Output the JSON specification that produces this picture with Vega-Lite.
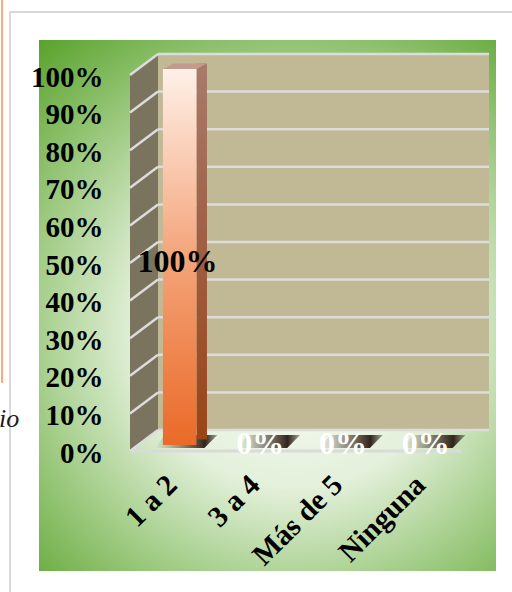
{
  "$schema": "https://vega.github.io/schema/vega-lite/v6.json",
  "width": 331,
  "height": 376,
  "autosize": {"type": "none"},
  "padding": {"left": 130, "top": 75, "right": 51, "bottom": 141},
  "background": "white",
  "config": {"view": {"stroke": null}, "font": "Liberation Serif"},
  "datasets": {
    "respuestas": [
      {"categoria": "1 a 2", "porcentaje": 1},
      {"categoria": "3 a 4", "porcentaje": 0},
      {"categoria": "Más de 5", "porcentaje": 0},
      {"categoria": "Ninguna", "porcentaje": 0}
    ],
    "marcas": [
      {"valor": 0}, {"valor": 0.1}, {"valor": 0.2}, {"valor": 0.3}, {"valor": 0.4}, {"valor": 0.5},
      {"valor": 0.6}, {"valor": 0.7}, {"valor": 0.8}, {"valor": 0.9}, {"valor": 1}
    ]
  },
  "resolve": {"scale": {"x": "independent", "y": "independent"}},
  "layer": [
    {
      "data": {"values": [{}]},
      "mark": {"type": "rect", "filled": false, "stroke": "#d9d9d9", "strokeWidth": 2},
      "encoding": {
        "x": {"datum": -1.45, "type": "quantitative", "scale": {"domain": [0, 4], "nice": false}, "axis": null},
        "x2": {"datum": 5},
        "y": {"datum": 1.1676, "type": "quantitative", "scale": {"domain": [0, 1], "nice": false}, "axis": null},
        "y2": {"datum": -0.45}
      }
    },
    {
      "data": {"values": [{}]},
      "mark": {"type": "rule", "color": "#f4ad7e", "strokeWidth": 2},
      "encoding": {
        "x": {"datum": -1.5468, "type": "quantitative", "scale": {"domain": [0, 4], "nice": false}, "axis": null},
        "y": {"datum": 1.2, "type": "quantitative", "scale": {"domain": [0, 1], "nice": false}, "axis": null},
        "y2": {"datum": 0.1809}
      }
    },
    {
      "data": {"values": [{}]},
      "mark": {"type": "text", "font": "Liberation Serif", "fontStyle": "italic", "fontSize": 26, "align": "left", "baseline": "alphabetic", "color": "#1a1a1a"},
      "encoding": {
        "x": {"datum": -1.5831, "type": "quantitative", "scale": {"domain": [0, 4], "nice": false}, "axis": null},
        "y": {"datum": 0.0638, "type": "quantitative", "scale": {"domain": [0, 1], "nice": false}, "axis": null},
        "text": {"value": "io"}
      }
    },
    {
      "data": {"values": [{}]},
      "mark": {
        "type": "rect",
        "fill": {
          "gradient": "radial", "x1": 0.55, "y1": 0.55, "r1": 0, "x2": 0.55, "y2": 0.55, "r2": 0.74,
          "stops": [
            {"offset": 0, "color": "#ffffff"},
            {"offset": 0.4, "color": "#e3f0da"},
            {"offset": 0.68, "color": "#9fcb83"},
            {"offset": 1, "color": "#56a027"}
          ]
        }
      },
      "encoding": {
        "x": {"datum": -1.0997, "type": "quantitative", "scale": {"domain": [0, 4], "nice": false}, "axis": null},
        "x2": {"datum": 4.423},
        "y": {"datum": 1.0931, "type": "quantitative", "scale": {"domain": [0, 1], "nice": false}, "axis": null},
        "y2": {"datum": -0.3191}
      }
    },
    {
      "data": {"values": [{}]},
      "mark": {"type": "rect", "fill": "#c1b995", "xOffset": 28, "x2Offset": 28, "yOffset": -21, "y2Offset": -21},
      "encoding": {
        "x": {"datum": 0, "type": "quantitative", "scale": {"domain": [0, 4], "nice": false}, "axis": null},
        "x2": {"datum": 4},
        "y": {"datum": 1, "type": "quantitative", "scale": {"domain": [0, 1], "nice": false}, "axis": null},
        "y2": {"datum": 0}
      }
    },
    {
      "data": {"name": "marcas"},
      "mark": {"type": "rule", "color": "#dcdcdc", "strokeWidth": 2.5, "xOffset": 28, "x2Offset": 28, "yOffset": -21},
      "encoding": {
        "x": {"datum": 0, "type": "quantitative", "scale": {"domain": [0, 4], "nice": false}, "axis": null},
        "x2": {"datum": 4},
        "y": {"field": "valor", "type": "quantitative", "scale": {"domain": [0, 1], "nice": false}, "axis": null}
      }
    },
    {
      "data": {"values": [{}]},
      "mark": {"type": "point", "shape": "M0,0 L28,-21 L28,-397 L0,-376 Z", "size": 4, "filled": true, "fill": "#7a745f", "opacity": 1, "strokeWidth": 0},
      "encoding": {
        "x": {"datum": 0, "type": "quantitative", "scale": {"domain": [0, 4], "nice": false}, "axis": null},
        "y": {"datum": 0, "type": "quantitative", "scale": {"domain": [0, 1], "nice": false}, "axis": null}
      }
    },
    {
      "data": {"name": "marcas"},
      "mark": {"type": "rule", "color": "#dcdcdc", "strokeWidth": 2.5, "x2Offset": 28, "y2Offset": -21},
      "encoding": {
        "x": {"datum": 0, "type": "quantitative", "scale": {"domain": [0, 4], "nice": false}, "axis": null},
        "x2": {"datum": 0},
        "y": {"field": "valor", "type": "quantitative", "scale": {"domain": [0, 1], "nice": false}, "axis": null},
        "y2": {"field": "valor"}
      }
    },
    {
      "data": {"values": [{}]},
      "mark": {"type": "rule", "color": "#dadada", "strokeWidth": 3},
      "encoding": {
        "x": {"datum": 0, "type": "quantitative", "scale": {"domain": [0, 4], "nice": false}, "axis": null},
        "x2": {"datum": 4},
        "y": {"datum": 0, "type": "quantitative", "scale": {"domain": [0, 1], "nice": false}, "axis": null}
      }
    },
    {
      "data": {"name": "respuestas"},
      "mark": {
        "type": "point", "shape": "M-16,-3 L33,-3 L46,-16 L-7,-16 Z", "size": 4, "filled": true, "opacity": 1, "strokeWidth": 0,
        "fill": {
          "gradient": "linear", "x1": 0, "y1": 0, "x2": 1, "y2": 0,
          "stops": [
            {"offset": 0, "color": "rgba(70,50,40,0)"},
            {"offset": 0.45, "color": "rgba(60,40,30,0.55)"},
            {"offset": 0.8, "color": "rgba(40,25,18,0.95)"},
            {"offset": 1, "color": "rgba(40,25,18,0.35)"}
          ]
        }
      },
      "encoding": {
        "x": {"field": "categoria", "type": "nominal", "scale": {"type": "band", "domain": ["1 a 2", "3 a 4", "Más de 5", "Ninguna"], "paddingInner": 0, "paddingOuter": 0}, "axis": null},
        "y": {"datum": 0, "type": "quantitative", "scale": {"domain": [0, 1], "nice": false}, "axis": null}
      }
    },
    {
      "data": {"name": "respuestas"},
      "transform": [{"filter": "datum.porcentaje > 0"}],
      "mark": {
        "type": "bar", "width": {"band": 0.127}, "xOffset": 30.35, "yOffset": -11.5, "y2Offset": -6,
        "fill": {
          "gradient": "linear", "x1": 0, "y1": 0, "x2": 0, "y2": 1,
          "stops": [
            {"offset": 0, "color": "#a97a6b"},
            {"offset": 0.5, "color": "#9e5e42"},
            {"offset": 1, "color": "#9a4416"}
          ]
        }
      },
      "encoding": {
        "x": {"field": "categoria", "type": "nominal", "scale": {"type": "band", "domain": ["1 a 2", "3 a 4", "Más de 5", "Ninguna"], "paddingInner": 0, "paddingOuter": 0}, "axis": null},
        "y": {"field": "porcentaje", "type": "quantitative", "scale": {"domain": [0, 1], "nice": false}, "axis": null}
      }
    },
    {
      "data": {"name": "respuestas"},
      "mark": {
        "type": "bar", "width": {"band": 0.405}, "xOffset": 8.3, "yOffset": -6, "y2Offset": -6,
        "fill": {
          "gradient": "linear", "x1": 0, "y1": 0, "x2": 0, "y2": 1,
          "stops": [
            {"offset": 0, "color": "#fff0e8"},
            {"offset": 0.5, "color": "#f4a47a"},
            {"offset": 1, "color": "#ea6a28"}
          ]
        }
      },
      "encoding": {
        "x": {
          "field": "categoria", "type": "nominal",
          "scale": {"type": "band", "domain": ["1 a 2", "3 a 4", "Más de 5", "Ninguna"], "paddingInner": 0, "paddingOuter": 0},
          "axis": {
            "orient": "bottom", "title": null, "domain": false, "ticks": false, "grid": false, "zindex": 1,
            "labelPadding": 29, "labelOffset": 1, "labelAngle": -45, "labelAlign": "right", "labelBaseline": "middle",
            "labelFont": "Liberation Serif", "labelFontSize": 29.5, "labelFontWeight": "bold", "labelColor": "black",
            "labelOverlap": false, "labelBound": false
          }
        },
        "y": {
          "field": "porcentaje", "type": "quantitative",
          "scale": {"domain": [0, 1], "nice": false},
          "axis": {
            "title": null, "domain": false, "ticks": false, "grid": false, "zindex": 1,
            "values": [0, 0.1, 0.2, 0.3, 0.4, 0.5, 0.6, 0.7, 0.8, 0.9, 1], "format": ".0%",
            "labelPadding": 27, "labelOffset": 2, "labelFont": "Liberation Serif", "labelFontSize": 29, "labelFontWeight": "bold",
            "labelColor": "black", "labelOverlap": false, "labelFlush": false
          }
        }
      }
    },
    {
      "data": {"name": "respuestas"},
      "transform": [{"filter": "datum.porcentaje > 0"}],
      "mark": {"type": "point", "shape": "M-16.75,0 L16.75,0 L27.25,-5.5 L-6.25,-5.5 Z", "size": 4, "filled": true, "fill": "#c49a8c", "opacity": 1, "strokeWidth": 0, "xOffset": 8.3, "yOffset": -6},
      "encoding": {
        "x": {"field": "categoria", "type": "nominal", "scale": {"type": "band", "domain": ["1 a 2", "3 a 4", "Más de 5", "Ninguna"], "paddingInner": 0, "paddingOuter": 0}, "axis": null},
        "y": {"field": "porcentaje", "type": "quantitative", "scale": {"domain": [0, 1], "nice": false}, "axis": null}
      }
    },
    {
      "data": {"name": "respuestas"},
      "mark": {"type": "text", "font": "Liberation Serif", "fontWeight": "bold", "fontSize": 32, "align": "center", "baseline": "middle", "xOffset": 6, "yOffset": -7},
      "encoding": {
        "x": {"field": "categoria", "type": "nominal", "scale": {"type": "band", "domain": ["1 a 2", "3 a 4", "Más de 5", "Ninguna"], "paddingInner": 0, "paddingOuter": 0}, "axis": null},
        "y": {"field": "porcentaje", "type": "quantitative", "scale": {"domain": [0, 2.07], "nice": false}, "axis": null},
        "text": {"field": "porcentaje", "type": "quantitative", "format": ".0%"},
        "color": {"condition": {"test": "datum.porcentaje > 0", "value": "black"}, "value": "white"}
      }
    }
  ]
}
